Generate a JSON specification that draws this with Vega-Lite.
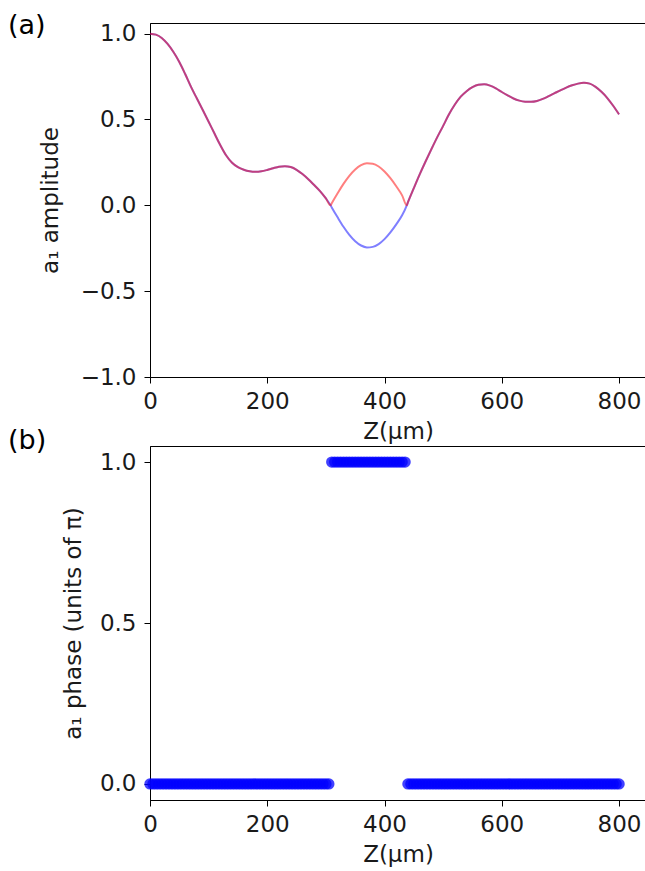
{
  "$schema": "https://vega.github.io/schema/vega-lite/v6.json",
  "padding": {"left": 7, "top": 11, "right": 0, "bottom": 0},
  "spacing": 69,
  "bounds": "flush",
  "datasets": {
    "amp": [
      {"z":0,"blue":1.000,"red":1.000},{"z":10,"blue":0.994,"red":0.994},{"z":20,"blue":0.975,"red":0.975},{"z":30,"blue":0.940,"red":0.940},
      {"z":40,"blue":0.893,"red":0.893},{"z":50,"blue":0.835,"red":0.835},{"z":60,"blue":0.765,"red":0.765},{"z":70,"blue":0.690,"red":0.690},
      {"z":80,"blue":0.622,"red":0.622},{"z":90,"blue":0.555,"red":0.555},{"z":100,"blue":0.487,"red":0.487},{"z":110,"blue":0.418,"red":0.418},
      {"z":120,"blue":0.350,"red":0.350},{"z":130,"blue":0.290,"red":0.290},{"z":140,"blue":0.248,"red":0.248},{"z":150,"blue":0.222,"red":0.222},
      {"z":160,"blue":0.207,"red":0.207},{"z":170,"blue":0.198,"red":0.198},{"z":180,"blue":0.195,"red":0.195},{"z":190,"blue":0.198,"red":0.198},
      {"z":200,"blue":0.206,"red":0.206},{"z":210,"blue":0.216,"red":0.216},{"z":220,"blue":0.225,"red":0.225},{"z":230,"blue":0.228,"red":0.228},
      {"z":240,"blue":0.223,"red":0.223},{"z":250,"blue":0.207,"red":0.207},{"z":260,"blue":0.182,"red":0.182},{"z":270,"blue":0.152,"red":0.152},
      {"z":280,"blue":0.118,"red":0.118},{"z":290,"blue":0.083,"red":0.083},{"z":300,"blue":0.040,"red":0.040},{"z":308,"blue":0.0,"red":0.0},
      {"z":310,"blue":-0.012,"red":0.012},{"z":320,"blue":-0.070,"red":0.070},{"z":330,"blue":-0.125,"red":0.125},{"z":340,"blue":-0.172,"red":0.172},
      {"z":350,"blue":-0.209,"red":0.209},{"z":360,"blue":-0.234,"red":0.234},{"z":370,"blue":-0.245,"red":0.245},{"z":380,"blue":-0.242,"red":0.242},
      {"z":390,"blue":-0.226,"red":0.226},{"z":400,"blue":-0.197,"red":0.197},{"z":410,"blue":-0.158,"red":0.158},{"z":420,"blue":-0.111,"red":0.111},
      {"z":430,"blue":-0.058,"red":0.058},{"z":438,"blue":0.0,"red":0.0},{"z":440,"blue":0.018,"red":0.018},{"z":450,"blue":0.100,"red":0.100},
      {"z":460,"blue":0.180,"red":0.180},{"z":470,"blue":0.255,"red":0.255},{"z":480,"blue":0.327,"red":0.327},{"z":490,"blue":0.397,"red":0.397},
      {"z":500,"blue":0.463,"red":0.463},{"z":510,"blue":0.530,"red":0.530},{"z":520,"blue":0.587,"red":0.587},{"z":530,"blue":0.633,"red":0.633},
      {"z":540,"blue":0.665,"red":0.665},{"z":550,"blue":0.688,"red":0.688},{"z":560,"blue":0.702,"red":0.702},{"z":570,"blue":0.705,"red":0.705},
      {"z":580,"blue":0.697,"red":0.697},{"z":590,"blue":0.681,"red":0.681},{"z":600,"blue":0.660,"red":0.660},{"z":610,"blue":0.640,"red":0.640},
      {"z":620,"blue":0.622,"red":0.622},{"z":630,"blue":0.610,"red":0.610},{"z":640,"blue":0.604,"red":0.604},{"z":650,"blue":0.603,"red":0.603},
      {"z":660,"blue":0.608,"red":0.608},{"z":670,"blue":0.620,"red":0.620},{"z":680,"blue":0.636,"red":0.636},{"z":690,"blue":0.653,"red":0.653},
      {"z":700,"blue":0.670,"red":0.670},{"z":710,"blue":0.686,"red":0.686},{"z":720,"blue":0.699,"red":0.699},{"z":730,"blue":0.709,"red":0.709},
      {"z":740,"blue":0.714,"red":0.714},{"z":750,"blue":0.709,"red":0.709},{"z":760,"blue":0.690,"red":0.690},{"z":770,"blue":0.661,"red":0.661},
      {"z":780,"blue":0.625,"red":0.625},{"z":790,"blue":0.580,"red":0.580},{"z":800,"blue":0.530,"red":0.530}
    ],
    "phase": [
      {"z":0,"phase":0},{"z":5,"phase":0},{"z":10,"phase":0},{"z":15,"phase":0},{"z":20,"phase":0},{"z":25,"phase":0},{"z":30,"phase":0},{"z":35,"phase":0},
      {"z":40,"phase":0},{"z":45,"phase":0},{"z":50,"phase":0},{"z":55,"phase":0},{"z":60,"phase":0},{"z":65,"phase":0},{"z":70,"phase":0},{"z":75,"phase":0},
      {"z":80,"phase":0},{"z":85,"phase":0},{"z":90,"phase":0},{"z":95,"phase":0},{"z":100,"phase":0},{"z":105,"phase":0},{"z":110,"phase":0},{"z":115,"phase":0},
      {"z":120,"phase":0},{"z":125,"phase":0},{"z":130,"phase":0},{"z":135,"phase":0},{"z":140,"phase":0},{"z":145,"phase":0},{"z":150,"phase":0},{"z":155,"phase":0},
      {"z":160,"phase":0},{"z":165,"phase":0},{"z":170,"phase":0},{"z":175,"phase":0},{"z":180,"phase":0},{"z":185,"phase":0},{"z":190,"phase":0},{"z":195,"phase":0},
      {"z":200,"phase":0},{"z":205,"phase":0},{"z":210,"phase":0},{"z":215,"phase":0},{"z":220,"phase":0},{"z":225,"phase":0},{"z":230,"phase":0},{"z":235,"phase":0},
      {"z":240,"phase":0},{"z":245,"phase":0},{"z":250,"phase":0},{"z":255,"phase":0},{"z":260,"phase":0},{"z":265,"phase":0},{"z":270,"phase":0},{"z":275,"phase":0},
      {"z":280,"phase":0},{"z":285,"phase":0},{"z":290,"phase":0},{"z":295,"phase":0},{"z":300,"phase":0},{"z":305,"phase":0},
      {"z":310,"phase":1},{"z":315,"phase":1},{"z":320,"phase":1},{"z":325,"phase":1},{"z":330,"phase":1},{"z":335,"phase":1},{"z":340,"phase":1},{"z":345,"phase":1},
      {"z":350,"phase":1},{"z":355,"phase":1},{"z":360,"phase":1},{"z":365,"phase":1},{"z":370,"phase":1},{"z":375,"phase":1},{"z":380,"phase":1},{"z":385,"phase":1},
      {"z":390,"phase":1},{"z":395,"phase":1},{"z":400,"phase":1},{"z":405,"phase":1},{"z":410,"phase":1},{"z":415,"phase":1},{"z":420,"phase":1},{"z":425,"phase":1},
      {"z":430,"phase":1},{"z":435,"phase":1},
      {"z":440,"phase":0},{"z":445,"phase":0},{"z":450,"phase":0},{"z":455,"phase":0},{"z":460,"phase":0},{"z":465,"phase":0},{"z":470,"phase":0},{"z":475,"phase":0},
      {"z":480,"phase":0},{"z":485,"phase":0},{"z":490,"phase":0},{"z":495,"phase":0},{"z":500,"phase":0},{"z":505,"phase":0},{"z":510,"phase":0},{"z":515,"phase":0},
      {"z":520,"phase":0},{"z":525,"phase":0},{"z":530,"phase":0},{"z":535,"phase":0},{"z":540,"phase":0},{"z":545,"phase":0},{"z":550,"phase":0},{"z":555,"phase":0},
      {"z":560,"phase":0},{"z":565,"phase":0},{"z":570,"phase":0},{"z":575,"phase":0},{"z":580,"phase":0},{"z":585,"phase":0},{"z":590,"phase":0},{"z":595,"phase":0},
      {"z":600,"phase":0},{"z":605,"phase":0},{"z":610,"phase":0},{"z":615,"phase":0},{"z":620,"phase":0},{"z":625,"phase":0},{"z":630,"phase":0},{"z":635,"phase":0},
      {"z":640,"phase":0},{"z":645,"phase":0},{"z":650,"phase":0},{"z":655,"phase":0},{"z":660,"phase":0},{"z":665,"phase":0},{"z":670,"phase":0},{"z":675,"phase":0},
      {"z":680,"phase":0},{"z":685,"phase":0},{"z":690,"phase":0},{"z":695,"phase":0},{"z":700,"phase":0},{"z":705,"phase":0},{"z":710,"phase":0},{"z":715,"phase":0},
      {"z":720,"phase":0},{"z":725,"phase":0},{"z":730,"phase":0},{"z":735,"phase":0},{"z":740,"phase":0},{"z":745,"phase":0},{"z":750,"phase":0},{"z":755,"phase":0},
      {"z":760,"phase":0},{"z":765,"phase":0},{"z":770,"phase":0},{"z":775,"phase":0},{"z":780,"phase":0},{"z":785,"phase":0},{"z":790,"phase":0},{"z":795,"phase":0},
      {"z":800,"phase":0}
    ]
  },
  "vconcat": [
    {
      "width": 496,
      "height": 354,
      "title": {"text": "(a)", "anchor": "start", "frame": "group", "dx": -142, "offset": -38, "baseline": "alphabetic", "fontSize": 27, "font": "DejaVu Sans", "fontWeight": "normal", "color": "#000000"},
      "data": {"name": "amp"},
      "encoding": {
        "x": {"field": "z", "type": "quantitative", "scale": {"domain": [0, 846], "nice": false, "zero": false},
              "axis": {"values": [0, 200, 400, 600, 800], "title": "Z(μm)", "grid": false}}
      },
      "layer": [
        {
          "mark": {"type": "line", "color": "#0000ff", "opacity": 0.5, "strokeWidth": 2, "interpolate": "monotone"},
          "encoding": {
            "y": {"field": "blue", "type": "quantitative", "scale": {"domain": [-1, 1.062], "nice": false, "zero": false},
                  "axis": {"values": [-1, -0.5, 0, 0.5, 1], "format": ".1f", "title": "a₁ amplitude", "grid": false, "titlePadding": 18}}
          }
        },
        {
          "mark": {"type": "line", "color": "#ff0000", "opacity": 0.5, "strokeWidth": 2, "interpolate": "monotone"},
          "encoding": {
            "y": {"field": "red", "type": "quantitative"}
          }
        }
      ]
    },
    {
      "width": 496,
      "height": 354,
      "title": {"text": "(b)", "anchor": "start", "frame": "group", "dx": -142, "offset": -30, "baseline": "alphabetic", "fontSize": 27, "font": "DejaVu Sans", "fontWeight": "normal", "color": "#000000"},
      "data": {"name": "phase"},
      "mark": {"type": "point", "filled": true, "shape": "circle", "color": "#0000ff", "opacity": 0.75, "size": 130, "strokeWidth": 0},
      "encoding": {
        "x": {"field": "z", "type": "quantitative", "scale": {"domain": [0, 846], "nice": false, "zero": false},
              "axis": {"values": [0, 200, 400, 600, 800], "title": "Z(μm)", "grid": false}},
        "y": {"field": "phase", "type": "quantitative", "scale": {"domain": [-0.05, 1.05], "nice": false, "zero": false},
              "axis": {"values": [0, 0.5, 1], "format": ".1f", "title": "a₁ phase (units of π)", "grid": false, "titlePadding": 14}}
      }
    }
  ],
  "config": {
    "view": {"stroke": "#000000", "strokeWidth": 1},
    "axis": {
      "labelFont": "DejaVu Sans", "labelFontSize": 23, "labelColor": "#1a1a1a", "labelFlush": false,
      "titleFont": "DejaVu Sans", "titleFontSize": 23, "titleFontWeight": "normal", "titleColor": "#1a1a1a",
      "domainColor": "#000000", "domainWidth": 1, "tickColor": "#000000", "tickWidth": 1, "tickSize": 6,
      "labelPadding": 7, "titlePadding": 7
    },
    "axisY": {"labelPadding": 8}
  }
}
